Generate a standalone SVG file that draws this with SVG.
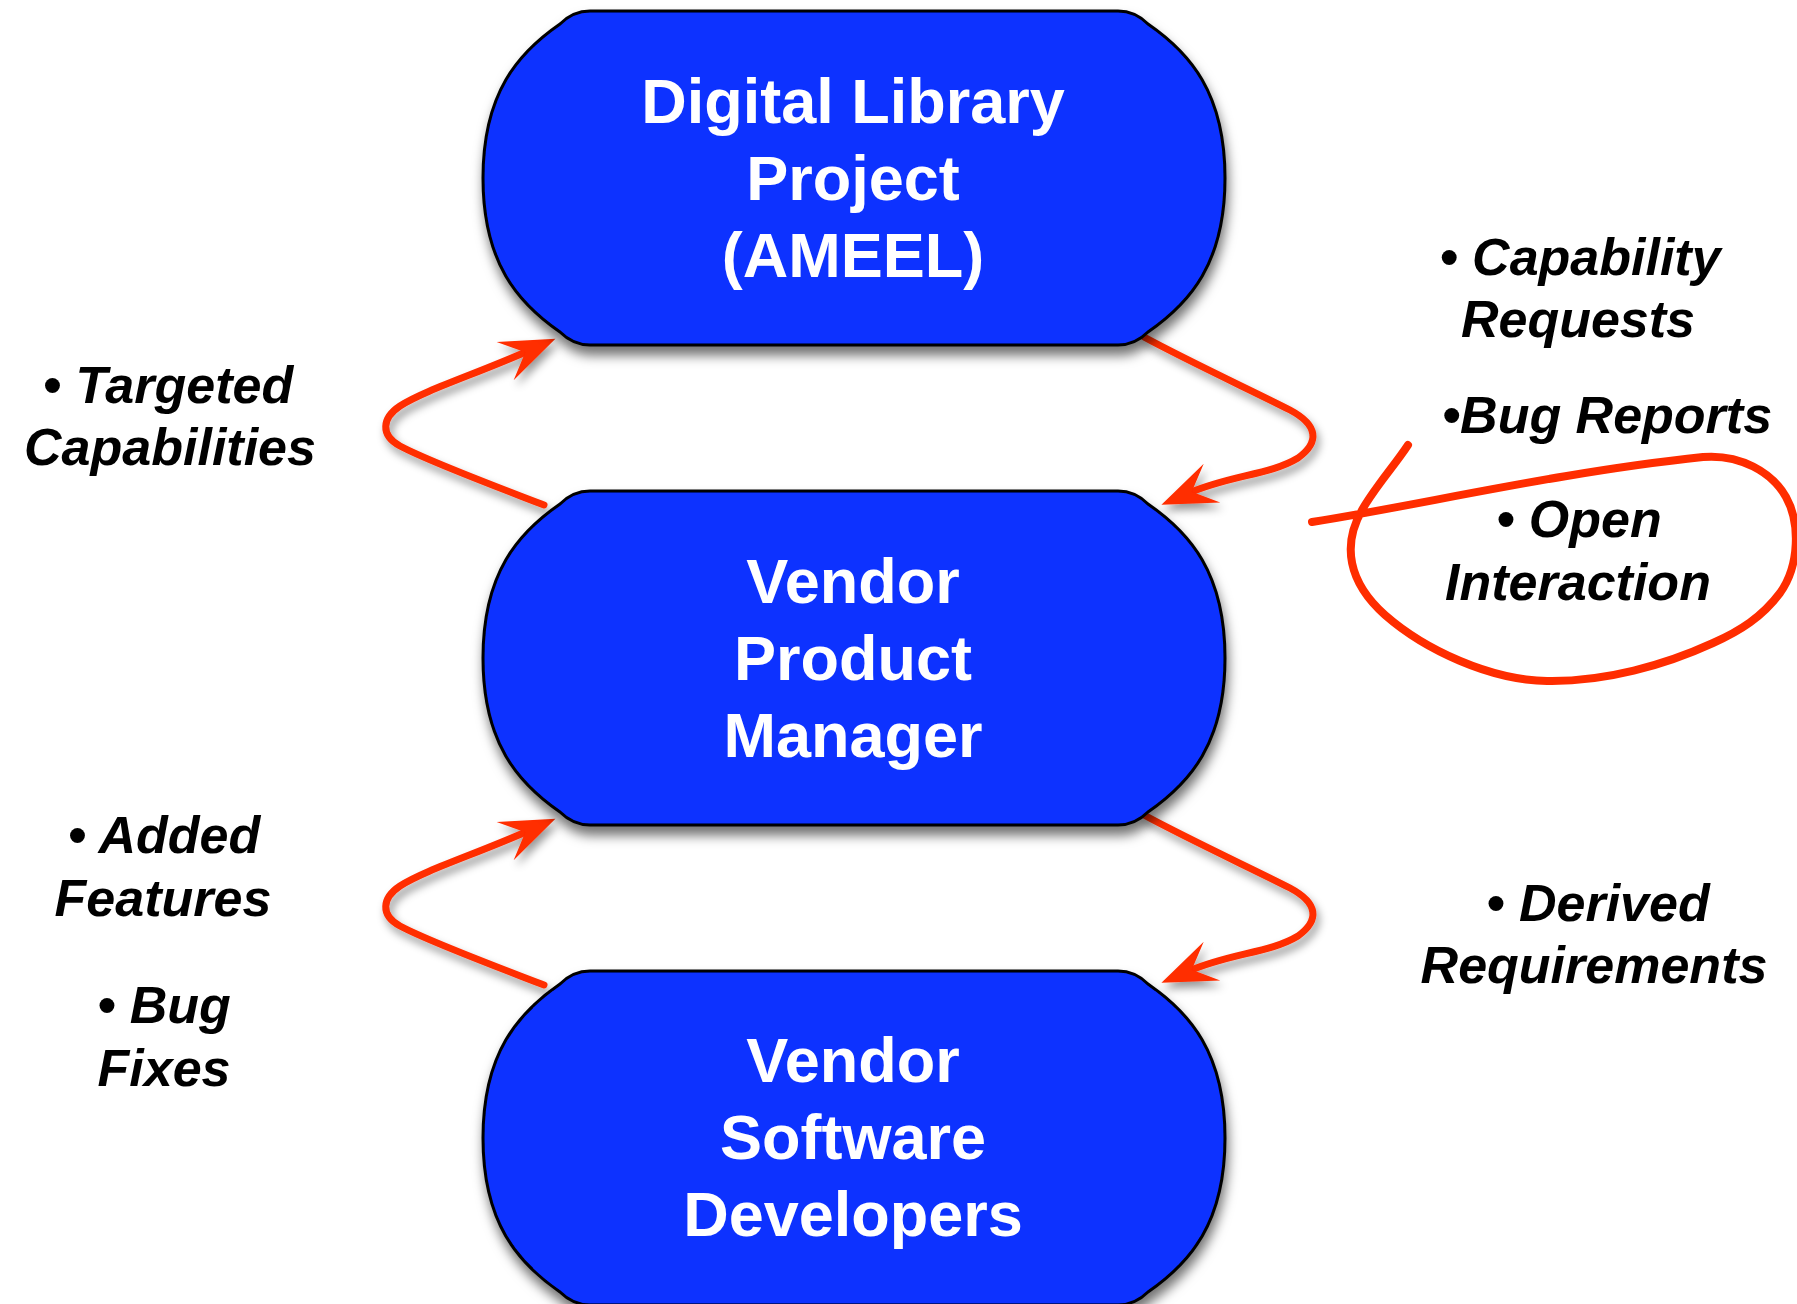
<svg xmlns="http://www.w3.org/2000/svg" xmlns:xlink="http://www.w3.org/1999/xlink" width="1797" height="1304" viewBox="0 0 1797 1304">
<style>
.node{fill:#0d30ff;stroke:#000;stroke-width:3}
.ntxt{font-family:"Liberation Sans",Arial,sans-serif;font-weight:bold;font-size:63px;fill:#fff;text-anchor:middle}
.lbl{font-family:"Liberation Sans",Arial,sans-serif;font-weight:bold;font-style:italic;font-size:52px;fill:#000;text-anchor:middle}
.conn{fill:none;stroke:#ff2d00;stroke-width:7;stroke-linecap:round}
.ink{fill:none;stroke:#ff2d00;stroke-width:8;stroke-linecap:round;stroke-linejoin:round}
</style>
<defs>
<filter id="shadow" x="-10%" y="-10%" width="120%" height="130%">
<feDropShadow dx="2" dy="9" stdDeviation="6" flood-color="#000" flood-opacity="0.55"/>
</filter>
<filter id="cshadow" x="-20%" y="-20%" width="140%" height="150%">
<feDropShadow dx="3" dy="6" stdDeviation="4" flood-color="#000" flood-opacity="0.4"/>
</filter>
<marker id="arrow" viewBox="-56 -22 58 44" refX="-30" refY="0" markerWidth="58" markerHeight="44" markerUnits="userSpaceOnUse" orient="auto">
<path d="M0,0 L-55,-21 L-33,0 L-55,21 Z" fill="#ff2d00"/>
</marker>
<path id="pill" d="M 590,0 L 1118,0 Q 1135,0 1148,13 C 1190,42 1225,82 1225,167 C 1225,252 1190,292 1148,321 Q 1135,334 1118,334 L 590,334 Q 573,334 560,321 C 518,292 483,252 483,167 C 483,82 518,42 560,13 Q 573,0 590,0 Z"/>
</defs>
<rect width="1797" height="1304" fill="#fff"/>

<g id="connectors" filter="url(#cshadow)">
<path class="conn" marker-end="url(#arrow)" d="M 544,505 C 500,488 430,462 400,446 C 380,435 382,418 400,406 C 425,390 476,374 528,351"/>
<path class="conn" marker-end="url(#arrow)" d="M 1144,337 C 1190,362 1255,392 1290,410 C 1318,425 1320,442 1298,458 C 1270,475 1231,475 1189,493"/>
<path class="conn" marker-end="url(#arrow)" transform="translate(0,480)" d="M 544,505 C 500,488 430,462 400,446 C 380,435 382,418 400,406 C 425,390 476,374 528,351"/>
<path class="conn" marker-end="url(#arrow)" transform="translate(0,478)" d="M 1144,337 C 1190,362 1255,392 1290,410 C 1318,425 1320,442 1298,458 C 1270,475 1231,475 1189,493"/>
</g>

<g id="node-ameel">
<use xlink:href="#pill" href="#pill" class="node" filter="url(#shadow)" transform="translate(0,11)"/>
<text class="ntxt" x="853" y="123">Digital Library</text>
<text class="ntxt" x="853" y="200">Project</text>
<text class="ntxt" x="853" y="277">(AMEEL)</text>
</g>

<g id="node-pm">
<use xlink:href="#pill" href="#pill" class="node" filter="url(#shadow)" transform="translate(0,491)"/>
<text class="ntxt" x="853" y="603">Vendor</text>
<text class="ntxt" x="853" y="680">Product</text>
<text class="ntxt" x="853" y="757">Manager</text>
</g>

<g id="node-dev">
<use xlink:href="#pill" href="#pill" class="node" filter="url(#shadow)" transform="translate(0,971)"/>
<text class="ntxt" x="853" y="1082">Vendor</text>
<text class="ntxt" x="853" y="1159">Software</text>
<text class="ntxt" x="853" y="1236">Developers</text>
</g>

<g id="label-targeted">
<text class="lbl" x="168" y="403">• Targeted</text>
<text class="lbl" x="170" y="465">Capabilities</text>
</g>
<g id="label-added">
<text class="lbl" x="164" y="853">• Added</text>
<text class="lbl" x="163" y="916">Features</text>
<text class="lbl" x="164" y="1023">• Bug</text>
<text class="lbl" x="164" y="1086">Fixes</text>
</g>
<g id="label-requests">
<text class="lbl" x="1580" y="275">• Capability</text>
<text class="lbl" x="1578" y="337">Requests</text>
<text class="lbl" x="1607" y="433">•Bug Reports</text>
<text class="lbl" x="1579" y="537">• Open</text>
<text class="lbl" x="1578" y="600">Interaction</text>
</g>
<g id="label-derived">
<text class="lbl" x="1598" y="921">• Derived</text>
<text class="lbl" x="1594" y="983">Requirements</text>
</g>

<path id="annotation" class="ink" d="M 1312,522 C 1420,505 1560,472 1703,457 C 1740,454 1772,472 1786,497 C 1800,522 1800,565 1780,593 C 1762,617 1740,631 1713,643 C 1665,665 1605,682 1547,681 C 1490,680 1425,650 1385,615 C 1348,582 1342,545 1362,510 C 1375,487 1395,465 1408,445"/>
</svg>
